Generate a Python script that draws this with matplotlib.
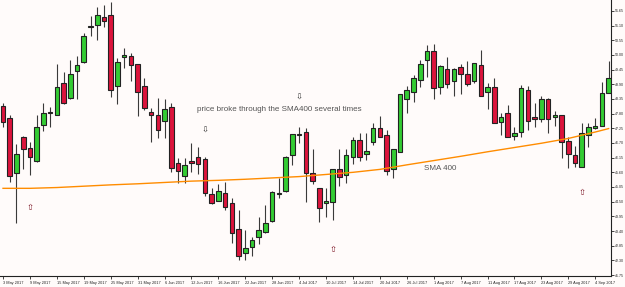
import matplotlib
matplotlib.use("Agg")
import matplotlib.pyplot as plt
import numpy as np

plt.rcParams['font.family'] = ['Liberation Sans', 'DejaVu Sans']

# daily candles, 3 May 2017 .. 6 Sep 2017
opens = [48.09, 47.64, 45.57, 46.93, 46.51, 46.03, 47.38, 47.81, 47.76, 48.95,
         48.39, 49.40, 49.74, 51.04, 51.12, 51.42, 51.50, 48.85, 49.93, 49.96,
         49.66, 48.85, 47.86, 47.76, 47.52, 48.05, 45.95, 45.46, 46.03, 46.17,
         46.10, 44.79, 44.53, 44.82, 44.45, 43.47, 42.57, 42.80, 43.17, 43.36,
         43.77, 44.79, 44.90, 46.25, 47.00, 47.11, 45.57, 45.01, 44.46, 44.49,
         45.72, 45.50, 46.17, 46.81, 46.29, 46.74, 47.26, 47.00, 45.72, 46.36,
         48.35, 48.61, 49.06, 49.81, 50.15, 48.80, 49.47, 49.03, 49.55, 49.29,
         49.03, 49.63, 48.61, 48.80, 47.49, 47.82, 46.96, 47.11, 48.69, 47.67,
         47.60, 48.35, 47.67, 47.76, 46.77, 46.25, 45.80, 47.00, 47.26, 47.34,
         48.57]
closes = [47.49, 45.46, 46.29, 46.48, 46.17, 47.30, 47.83, 47.85, 48.80, 48.20,
          49.29, 49.63, 50.71, 51.06, 51.50, 51.27, 48.69, 49.74, 50.00, 49.63,
          48.61, 48.01, 47.76, 47.19, 47.97, 45.76, 45.65, 45.87, 45.95, 45.91,
          44.82, 44.45, 44.90, 44.30, 43.32, 42.46, 42.76, 43.06, 43.44, 43.70,
          44.86, 44.82, 46.17, 47.04, 47.04, 45.57, 45.27, 44.26, 44.54, 45.72,
          45.42, 46.25, 46.81, 46.17, 46.40, 47.26, 46.93, 45.65, 46.48, 48.54,
          48.69, 49.14, 49.66, 50.15, 48.76, 49.59, 48.91, 49.47, 49.29, 48.91,
          49.70, 48.46, 48.80, 47.45, 47.67, 46.93, 47.07, 48.76, 47.52, 47.60,
          48.35, 47.60, 47.76, 46.74, 46.29, 45.95, 47.07, 47.30, 47.34, 48.57,
          49.14]
highs = [48.20, 47.76, 46.66, 46.96, 46.74, 47.76, 48.20, 48.05, 49.66, 49.36,
         49.81, 49.96, 50.83, 51.46, 51.80, 51.87, 51.99, 49.89, 50.26, 50.07,
         49.66, 49.14, 48.01, 48.39, 48.36, 48.20, 46.14, 46.14, 46.70, 46.55,
         46.17, 45.01, 45.16, 45.24, 44.64, 44.19, 43.44, 43.17, 43.94, 44.37,
         44.90, 45.39, 46.20, 47.04, 47.30, 47.26, 46.48, 45.01, 45.01, 45.72,
         46.48, 46.48, 46.93, 47.07, 47.07, 47.45, 47.71, 47.19, 46.48, 48.54,
         48.84, 49.25, 49.81, 50.37, 50.41, 49.63, 49.92, 49.51, 49.66, 49.77,
         49.70, 50.19, 48.95, 49.14, 47.82, 48.12, 47.30, 48.87, 48.84, 48.20,
         48.46, 48.39, 47.90, 47.76, 46.93, 46.59, 47.45, 47.45, 47.64, 48.99,
         49.77]
lows = [47.30, 45.24, 43.70, 45.72, 45.50, 45.99, 47.15, 47.30, 47.74, 48.18,
        48.36, 48.36, 49.70, 50.71, 50.56, 51.05, 48.43, 48.16, 49.51, 49.03,
        47.71, 47.94, 46.74, 46.89, 46.89, 45.61, 45.20, 45.20, 45.61, 45.54,
        44.71, 44.43, 44.52, 44.19, 42.95, 42.31, 42.31, 42.45, 42.90, 43.32,
        43.75, 44.64, 44.88, 45.87, 46.70, 44.49, 45.16, 43.74, 43.94, 43.81,
        45.09, 45.20, 45.91, 46.03, 46.06, 46.63, 46.91, 45.50, 45.39, 46.36,
        47.82, 48.24, 48.80, 49.17, 48.35, 48.54, 48.76, 48.46, 48.54, 48.84,
        48.94, 48.46, 47.97, 47.45, 47.00, 46.93, 46.81, 46.93, 47.19, 47.30,
        47.49, 47.07, 47.34, 46.14, 45.76, 45.80, 45.80, 46.55, 47.22, 47.34,
        48.57]

date_labels = ["3 May 2017", "9 May 2017", "15 May 2017", "19 May 2017",
               "25 May 2017", "31 May 2017", "6 Jun 2017", "12 Jun 2017",
               "16 Jun 2017", "22 Jun 2017", "28 Jun 2017", "4 Jul 2017",
               "10 Jul 2017", "14 Jul 2017", "20 Jul 2017", "26 Jul 2017",
               "1 Aug 2017", "7 Aug 2017", "11 Aug 2017", "17 Aug 2017",
               "23 Aug 2017", "29 Aug 2017", "4 Sep 2017"]
date_bars = list(range(0, 89, 4))

# SMA 400, read at the label positions
sma_bars = [0, 4, 8, 12, 16, 20, 24, 28, 32, 36, 40, 44, 48, 52, 56, 60,
            64, 68, 72, 76, 80, 84, 88, 90]
sma_vals = [45.00, 45.00, 45.03, 45.08, 45.13, 45.17, 45.22, 45.27, 45.30,
            45.34, 45.39, 45.44, 45.52, 45.60, 45.71, 45.88, 46.04, 46.20,
            46.37, 46.53, 46.69, 46.87, 47.11, 47.24]

up_arrows_x = [4, 49, 86]
up_arrows_y = [44.30, 42.72, 44.86]
down_arrows_x = [30, 44]
down_arrows_y = [47.19, 48.43]

price_ticks = [41.75 + 0.55 * k for k in range(19)]

bg = '#fffbfa'
fig = plt.figure(figsize=(6.25, 2.87), dpi=100, facecolor=bg)
ax = fig.add_axes([0, 0.038, 0.9776, 0.962], facecolor=bg)

o = np.array(opens)
c = np.array(closes)
x = np.arange(len(o))
up = c >= o
ax.vlines(x, lows, highs, color='#3a3a3a', lw=0.8, zorder=2)
bottom = np.minimum(o, c)
height = np.maximum(np.abs(c - o), 0.035)
colors = np.where(up, '#33cc33', '#dc143c')
ax.bar(x, height, bottom=bottom, width=0.68, color=colors,
       edgecolor='#222222', linewidth=0.8, zorder=3)

ax.plot(sma_bars, sma_vals, color='#ff8c00', lw=1.0, zorder=4)

ax.text(28.8, 47.94, "price broke through the SMA400 several times",
        fontsize=5.75, color='#555555', va='center', ha='left')
ax.text(62.6, 45.76, "SMA 400", fontsize=5.75, color='#555555',
        va='center', ha='left')
for xa, ya in zip(up_arrows_x, up_arrows_y):
    ax.text(xa, ya, '\u21e7', fontsize=6, color='#7a1020', ha='center',
            va='center', family='DejaVu Sans')
for xa, ya in zip(down_arrows_x, down_arrows_y):
    ax.text(xa, ya, '\u21e9', fontsize=6, color='#333333', ha='center',
            va='center', family='DejaVu Sans')

ax.set_xlim(-0.45, 90.35)
ax.set_ylim(41.71, 52.06)
ax.yaxis.tick_right()
ax.set_yticks(price_ticks)
ax.set_yticklabels(["%.2f" % p for p in price_ticks])
ax.set_xticks(date_bars)
ax.set_xticklabels(date_labels, ha='left')
ax.tick_params(axis='x', labelsize=2.8, length=2, width=0.6,
               colors='#222222', pad=1.5)
ax.tick_params(axis='y', labelsize=2.6, length=2, width=0.6,
               colors='#222222', pad=1)
for s in ['top', 'left']:
    ax.spines[s].set_visible(False)
for s in ['right', 'bottom']:
    ax.spines[s].set_linewidth(0.8)
    ax.spines[s].set_color('#222222')

fig.savefig("out.png", dpi=100, facecolor=bg)
